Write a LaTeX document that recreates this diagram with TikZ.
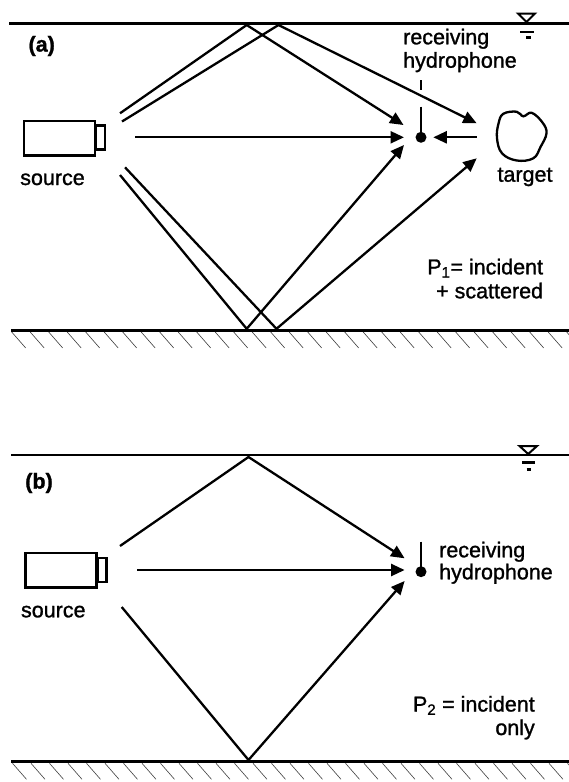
\documentclass[tikz,border=0pt]{standalone}
\usepackage{fontspec}
\setmainfont[FakeBold=1.2]{Liberation Sans}
\usetikzlibrary{arrows.meta}

\begin{document}
\begin{tikzpicture}[x=1pt,y=-1pt,
  ray/.style={line width=2.3pt},
  arr/.style={ray,-{Triangle[length=13.5pt,width=12pt]}},
  surf/.style={line width=2.7pt},
  hatchline/.style={line width=0.6pt,black!75},
  lbl/.style={font=\fontsize{21.5}{24}\selectfont,inner sep=0pt},
  tag/.style={font=\fontsize{21.5}{24}\selectfont\bfseries,inner sep=0pt},
  srcbox/.style={draw,line width=2.5pt,inner sep=0pt,minimum width=71pt,minimum height=34.5pt},
  nubbox/.style={draw,line width=2.1pt,inner sep=0pt,minimum width=9pt,minimum height=24pt},
  dot/.style={circle,fill=black,inner sep=0pt,minimum size=11pt},
  stem/.style={line width=2.6pt},
]
\useasboundingbox (0,0) rectangle (569,782);

% ---------------- panel (a) ----------------
% sea surface and sea bed
\coordinate (sa1) at (9,23.3);  \coordinate (sa2) at (569,23.3);
\coordinate (ba1) at (11,330.5); \coordinate (ba2) at (569,330.5);
\draw[surf] (sa1) -- (sa2);
\draw[surf] (ba1) -- (ba2);
\foreach \x in {11.7,30.2,...,569} \draw[hatchline] (\x,332) -- ++(14,16);
% surface symbol
\draw[line width=2pt,fill=white] (518,13.5) -- (535,13.5) -- (526.5,22) -- cycle;
\draw[line width=2.2pt] (520,31.7) -- (534,31.7);
\draw[line width=2.6pt] (526,37.5) -- (530.5,37.5);

\node[tag] (tagA) at (41.7,46) {(a)};

% source
\node[srcbox] (srcA) at (59.5,138.3) {};
\node[nubbox] (nubA) at (100.5,137.5) {};
\node[lbl,anchor=base] (srcAlbl) at (52.5,185) {source};

% receiver
\node[dot] (hydA) at (421,137.3) {};
\coordinate (stemAtop) at (421,106.7);
\draw[stem] (stemAtop) -- (hydA.center);
\coordinate (tickA1) at (421,80); \coordinate (tickA2) at (421,90);
\draw[stem] (tickA1) -- (tickA2);
\node[lbl,anchor=base west] (hydAlbl1) at (403,44.3) {receiving};
\node[lbl,anchor=base west] (hydAlbl2) at (403,67.7) {hydrophone};

% target
\draw[line width=2.3pt] plot[smooth cycle,tension=0.65] coordinates {
  (503.3,113.8) (516.7,111.7) (523.3,116.3) (531.7,112.8) (542.5,122.5)
  (546.5,133.3) (540.5,147) (533.3,158.3) (516.7,160.5) (502,153.3)
  (497,138.3) (498.5,123.5)};
\node[lbl,anchor=base] (tgtlbl) at (525,181.7) {target};

% ray end points
\coordinate (a_su) at (120,113.3);
\coordinate (a_si) at (122,121.5);
\coordinate (a_sd) at (135,137.3);
\coordinate (a_sl) at (125,167.3);
\coordinate (a_so) at (120,175);
\coordinate (a_t1) at (246.7,25);
\coordinate (a_t2) at (278.5,25);
\coordinate (a_b1) at (246.7,328.8);
\coordinate (a_b2) at (276.5,328.8);
\coordinate (a_h1) at (403.5,125);
\coordinate (a_h2) at (404,137.3);
\coordinate (a_h3) at (404,145);
\coordinate (a_g1) at (476.7,123.3);
\coordinate (a_g2) at (476.7,158.3);
\coordinate (a_gs) at (476.7,137.3);
\coordinate (a_gh) at (433.3,137.3);

\draw[arr] (a_su) -- (a_t1) -- (a_h1);
\draw[arr] (a_si) -- (a_t2) -- (a_g1);
\draw[arr] (a_sd) -- (a_h2);
\draw[arr] (a_so) -- (a_b1) -- (a_h3);
\draw[arr] (a_sl) -- (a_b2) -- (a_g2);
\draw[arr] (a_gs) -- (a_gh);

\node[lbl,anchor=base east] (pA1) at (543.3,274.3) {P\textsubscript{1}= incident};
\node[lbl,anchor=base east] (pA2) at (543.3,298.3) {+ scattered};

% ---------------- panel (b) ----------------
\coordinate (sb1) at (11,455);  \coordinate (sb2) at (569,455);
\coordinate (bb1) at (11,761.7); \coordinate (bb2) at (569,761.7);
\draw[surf] (sb1) -- (sb2);
\draw[surf] (bb1) -- (bb2);
\foreach \x in {12.5,31,...,569} \draw[hatchline] (\x,763.3) -- ++(14,16);
\draw[line width=2pt,fill=white] (519.5,446) -- (537,446) -- (528.2,454) -- cycle;
\draw[line width=2.2pt] (522,462.5) -- (535,462.5);
\draw[line width=2.6pt] (526.5,469.5) -- (531,469.5);

\node[tag] (tagB) at (39,483) {(b)};

\node[srcbox] (srcB) at (61.2,570) {};
\node[nubbox] (nubB) at (102,570) {};
\node[lbl,anchor=base] (srcBlbl) at (53.3,617.3) {source};

\node[dot] (hydB) at (421,571.7) {};
\coordinate (stemBtop) at (421,541.7);
\draw[stem] (stemBtop) -- (hydB.center);
\node[lbl,anchor=base west] (hydBlbl1) at (439,557.3) {receiving};
\node[lbl,anchor=base west] (hydBlbl2) at (439,579.3) {hydrophone};

\coordinate (b_su) at (120,546);
\coordinate (b_sd) at (137,570);
\coordinate (b_sl) at (121.7,607);
\coordinate (b_t) at (248.5,457);
\coordinate (b_b) at (248.5,760);
\coordinate (b_h1) at (404.6,558.3);
\coordinate (b_h2) at (404.6,570);
\coordinate (b_h3) at (404.6,581);

\draw[arr] (b_su) -- (b_t) -- (b_h1);
\draw[arr] (b_sd) -- (b_h2);
\draw[arr] (b_sl) -- (b_b) -- (b_h3);

\node[lbl,anchor=base east] (pB1) at (535,711.5) {P\textsubscript{2} = incident};
\node[lbl,anchor=base east] (pB2) at (535,735) {only};
\end{tikzpicture}
\end{document}
